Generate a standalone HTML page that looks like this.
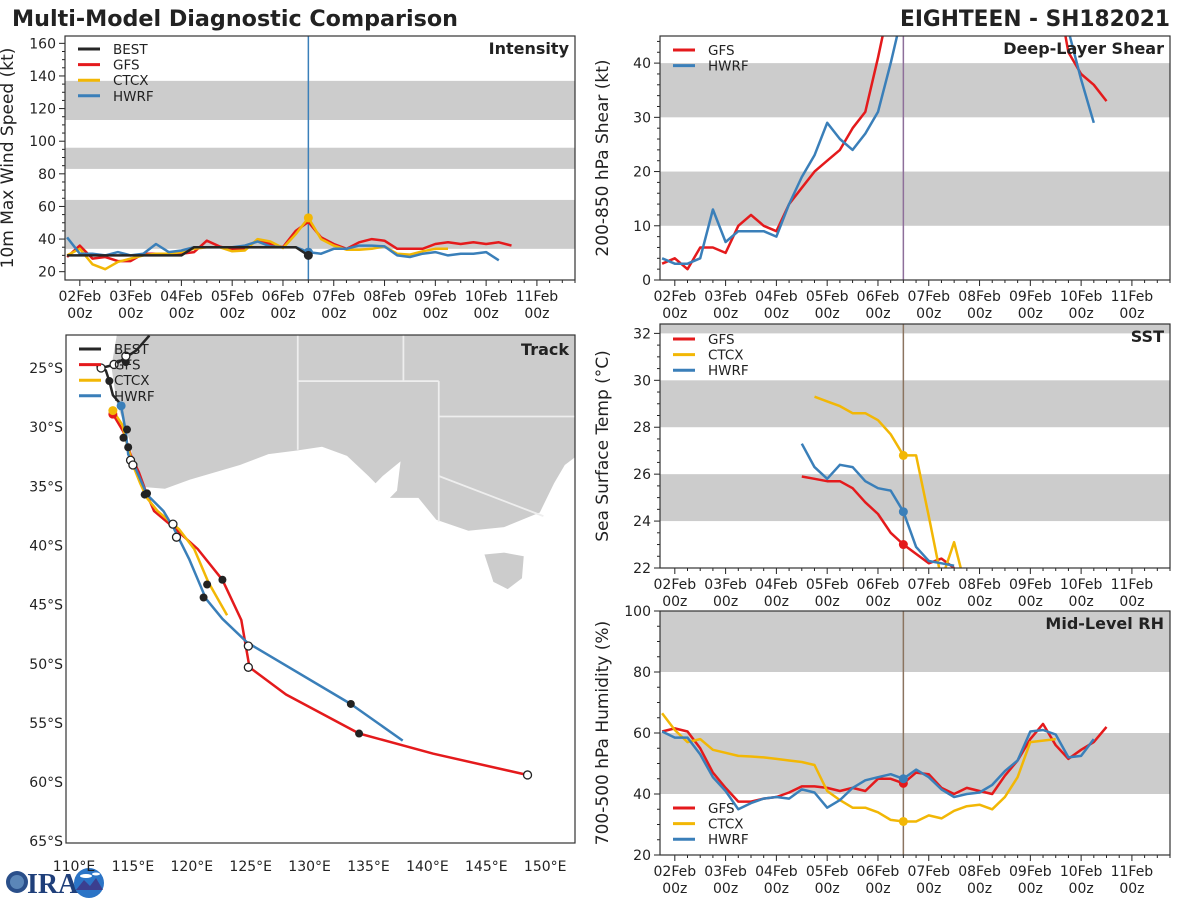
<!DOCTYPE html>
<html><head><meta charset="utf-8"><style>
html,body{margin:0;padding:0;background:#fff;}
svg{display:block;font-family:"DejaVu Sans","Liberation Sans",sans-serif;}
</style></head><body>
<svg id="fig" width="1200" height="900" viewBox="0 0 1200 900" xmlns="http://www.w3.org/2000/svg">
<rect width="1200" height="900" fill="#fff"/>
<text x="12" y="26" font-size="22" font-weight="bold" fill="#222" textLength="446" lengthAdjust="spacingAndGlyphs">Multi-Model Diagnostic Comparison</text>
<text x="1170" y="26" font-size="22" font-weight="bold" fill="#222" text-anchor="end" textLength="270" lengthAdjust="spacingAndGlyphs">EIGHTEEN - SH182021</text>
<g>
<circle cx="17" cy="882" r="11" fill="#2a4f8a"/><circle cx="17" cy="882" r="7" fill="#5b86b8"/>
<text x="27" y="893" font-size="28" font-weight="bold" fill="#1f3f7a" font-family="Liberation Serif,serif">IRA</text>
<circle cx="89" cy="883" r="15" fill="#2b74c6"/><path d="M76 890 L84 880 L90 886 L96 878 L103 890 Z" fill="#3b3f8f"/><ellipse cx="86" cy="876" rx="6" ry="2" fill="#fff"/><ellipse cx="96" cy="874" rx="4" ry="1.5" fill="#fff"/>
</g>
</svg>
<script>
// ---------- data ----------
const intBest = [30,30,30,30,30,30,30,30,30,30,35,35,35,35,35,35,35,35,35,30];
const intGfs = [29,36,28,29,26.5,26.5,31,31,31,31,32,39,35.5,33.5,34,39.5,37,35,45,50.5,41,37,34,38,40,39,34,34,34,37,38,37,38,37,38,36];
const intCtcx = [30,34,24.5,21.5,26,28,30,31,31,32,34,35,35,32.5,33,40,38.5,34.5,43,53,40,36,33.5,33.5,34,35.5,31,30.5,32.5,34,34];
const intHwrf = [41,31,31,30,32,30,31,37,32,33,35,35,35,35,36,38.5,35.5,35,35,32,31,34,34,36,36,35.5,30,29,31,32,30,31,31,32,27];
const shearGfs = [3,4,2,6,6,5,10,12,10,9,14,17,20,22,24,28,31,41,52,58,60,60,60,60,60,60,60,60,60,60,60,55,42,38,36,33];
const shearHwrf = [4,3,3,4,13,7,9,9,9,8,14,19,23,29,26,24,27,31,40,50,58,60,60,60,60,60,60,60,60,60,60,55,46,37,29];
const sstGfs = [25.9,25.8,25.7,25.7,25.4,24.8,24.3,23.5,23.0,22.6,22.2,22.4,22.0];
const sstCtcx = [29.3,29.1,28.9,28.6,28.6,28.3,27.7,26.8,26.8,24.2,21.5,23.1,21.0];
const sstHwrf = [27.3,26.3,25.8,26.4,26.3,25.7,25.4,25.3,24.4,22.9,22.3,22.2,22.1];
const rhGfs = [60.5,61.5,60.5,55,47,42,37.5,37.5,38.5,39,40.5,42.5,42.5,42,41,42,41,45,45,43.5,47,46.5,42,40,42,41,40,46,51,58,63,56,51.5,54.5,57,62];
const rhCtcx = [66.5,61,57,58,54.5,53.5,52.5,52.3,52,51.5,51,50.5,49.5,41,38,35.5,35.5,34,31.5,31,31,33,32,34.5,36,36.5,35,39,45.5,57,57.5,58];
const rhHwrf = [60.5,58.5,58.5,53,45.5,41,35,37,38.5,39,38.5,41.5,40.5,35.5,38,42,44.5,45.5,46.5,45,48,45.5,41.5,39,40,40.5,43,47.5,51,60.5,61,59.5,52,52.5,58];
const trkBestLon = [116.4,115.3,114.4,113.5,112.3,112.0,112.7,113.0,113.3,114.0];
const trkBestLat = [22.25,23.5,24.1,24.7,25.0,24.9,25.2,26.1,27.3,28.1];
const trkGfsLon = [113.3,114.2,114.8,115.5,116.2,116.8,118.6,120.5,122.6,124.2,124.9,128.0,134.2,140.5,148.5];
const trkGfsLat = [28.9,30.4,32.3,33.8,35.7,37.1,38.6,40.3,42.9,46.3,50.3,52.6,55.9,57.6,59.4];
const trkCtcxLon = [113.3,114.1,114.5,115.0,115.6,116.2,117.1,118.9,120.2,121.4,123.0];
const trkCtcxLat = [28.6,29.8,31.4,33.2,34.7,36.0,37.1,38.6,40.3,43.1,45.9];
const trkHwrfLon = [114.0,114.4,114.6,115.1,116.2,117.6,118.5,119.8,121.2,122.6,124.7,133.5,137.9];
const trkHwrfLat = [28.2,30.4,32.3,33.2,35.7,37.1,38.6,41.2,44.5,46.2,48.2,53.4,56.5];
const trkFilledLon = [114.4,113.0,114.5,114.2,114.6,116.0,116.2,121.3,122.6,121.0,133.5,134.2];
const trkFilledLat = [24.5,26.1,30.2,30.9,31.7,35.7,35.6,43.3,42.9,44.4,53.4,55.9];
const trkOpenLon = [112.3,113.4,114.4,114.8,115.0,118.4,118.7,124.8,124.8,148.5];
const trkOpenLat = [25.0,24.7,24.0,32.8,33.2,38.2,39.3,48.5,50.3,59.4];

// ---------- helpers ----------
const NS = 'http://www.w3.org/2000/svg';
const svg = document.getElementById('fig');
function mk(tag, attrs, parent){ const e=document.createElementNS(NS,tag); for(const k in attrs) e.setAttribute(k,attrs[k]); (parent||svg).appendChild(e); return e; }
const C = {best:'#262626', gfs:'#e41a1c', ctcx:'#f2b705', hwrf:'#3a7fb9'};
const TMIN=-7, TMAX=234;
let clipId=0;

function panel(p){
  const g = mk('g',{});
  
  
  const xs = t => p.x0 + (t-TMIN)/(TMAX-TMIN)*(p.x1-p.x0);
  const ys = v => p.y1 - (v-p.ymin)/(p.ymax-p.ymin)*(p.y1-p.y0);
  const cid='c'+(clipId++);
  const cp=mk('clipPath',{id:cid},g); mk('rect',{x:p.x0,y:p.y0,width:p.x1-p.x0,height:p.y1-p.y0},cp);
  p.bands.forEach(b=>{
    const r=mk('rect',{x:p.x0,y:ys(Math.min(b[1],p.ymax)),width:p.x1-p.x0,height:ys(b[0])-ys(Math.min(b[1],p.ymax)),fill:'#cccccc'},g);
    
    
  });
  for(let v=p.ymin0; v<=p.ymax+1e-6; v+=p.minor){
    const major = Math.abs(((v-p.ymin0)/p.major) - Math.round((v-p.ymin0)/p.major))<1e-6;
    mk('line',{x1:p.x0-(major?6:3),x2:p.x0,y1:ys(v),y2:ys(v),stroke:'#222','stroke-width':1},g);
    if(major){
      const t=mk('text',{x:p.x0-9,y:ys(v)+5,'font-size':14,'text-anchor':'end',fill:'#222'},g); t.textContent=v;
      
      
    }
  }
  for(let h=0; h<=TMAX; h+=6){
    const major=h%24===0;
    mk('line',{x1:xs(h),x2:xs(h),y1:p.y1,y2:p.y1+(major?6:3),stroke:'#222','stroke-width':1},g);
    if(major){
      const d=2+h/24;
      const t1=mk('text',{x:xs(h),y:p.y1+21,'font-size':14,'text-anchor':'middle',fill:'#222'},g); t1.textContent=(d<10?'0':'')+d+'Feb';
      
      
      const t2=mk('text',{x:xs(h),y:p.y1+38,'font-size':14,'text-anchor':'middle',fill:'#222'},g); t2.textContent='00z';
      
      
    }
  }
  const yt=mk('text',{x:0,y:0,'font-size':17,'text-anchor':'middle',fill:'#222',transform:`translate(${p.x0-52},${(p.y0+p.y1)/2}) rotate(-90)`},g);
  yt.textContent=p.ytitle;
  
  
  const sg=mk('g',{'clip-path':`url(#${cid})`},g);
  p.vlines.forEach(c=>mk('line',{x1:xs(108),x2:xs(108),y1:p.y0,y2:p.y1,stroke:c,'stroke-width':1.5},sg));
  p.series.forEach(s=>{
    const pts=s.vals.map((v,i)=>xs(s.start+6*i).toFixed(1)+','+ys(v).toFixed(1)).join(' ');
    const pl=mk('polyline',{points:pts,fill:'none',stroke:C[s.key],'stroke-width':2.5,'stroke-linejoin':'round'},sg);
    
    
    const idx=(108-s.start)/6;
    if(s.dot && idx>=0 && idx<s.vals.length){
      const c=mk('circle',{cx:xs(108),cy:ys(s.vals[idx]),r:4.5,fill:C[s.key]},sg);
      
      
    }
  });
  mk('rect',{x:p.x0,y:p.y0,width:p.x1-p.x0,height:p.y1-p.y0,fill:'none',stroke:'#333','stroke-width':1.2},g);
  const pt=mk('text',{x:p.x1-6,y:p.y0+18,'font-size':16,'font-weight':'bold','text-anchor':'end',fill:'#222'},g);
  pt.textContent=p.title;
  
  
  legend(g,p.x0+13,p.legY,p.legend);
}
function legend(g,x,y,keys){
  const lg=mk('g',{},g);
  
  
  keys.forEach((k,i)=>{
    const yy=y+i*15.6;
    mk('line',{x1:x,x2:x+22,y1:yy,y2:yy,stroke:C[k],'stroke-width':3},lg);
    const t=mk('text',{x:x+35,y:yy+5,'font-size':13.5,fill:'#222'},lg); t.textContent=k.toUpperCase();
    
    
  });
}

panel({name:'intensity',x0:65,x1:575,y0:36,y1:280,ymin:14.9,ymax:164.5,ymin0:20,major:20,minor:5,
  bands:[[34,64],[83,96],[113,137]],title:'Intensity',ytitle:'10m Max Wind Speed (kt)',
  vlines:['#3a7fb9'],legY:49,legend:['best','gfs','ctcx','hwrf'],
  series:[{key:'gfs',start:-6,vals:intGfs},{key:'ctcx',start:-6,vals:intCtcx,dot:1},{key:'hwrf',start:-6,vals:intHwrf,dot:1},{key:'best',start:-6,vals:intBest,dot:1}]});
panel({name:'shear',x0:660,x1:1170,y0:36,y1:280,ymin:0,ymax:45,ymin0:0,major:10,minor:2,
  bands:[[10,20],[30,40]],title:'Deep-Layer Shear',ytitle:'200-850 hPa Shear (kt)',
  vlines:['#8e6f9a'],legY:50,legend:['gfs','hwrf'],
  series:[{key:'gfs',start:-6,vals:shearGfs},{key:'hwrf',start:-6,vals:shearHwrf}]});
panel({name:'sst',x0:660,x1:1170,y0:324,y1:568,ymin:22,ymax:32.4,ymin0:22,major:2,minor:0.5,
  bands:[[24,26],[28,30],[32,33]],title:'SST',ytitle:'Sea Surface Temp (°C)',
  vlines:['#8b7460'],legY:339,legend:['gfs','ctcx','hwrf'],
  series:[{key:'gfs',start:60,vals:sstGfs,dot:1},{key:'ctcx',start:66,vals:sstCtcx,dot:1},{key:'hwrf',start:60,vals:sstHwrf,dot:1}]});
panel({name:'rh',x0:660,x1:1170,y0:611,y1:855,ymin:20,ymax:100,ymin0:20,major:20,minor:5,
  bands:[[40,60],[80,100]],title:'Mid-Level RH',ytitle:'700-500 hPa Humidity (%)',
  vlines:['#8b7460'],legY:808,legend:['gfs','ctcx','hwrf'],
  series:[{key:'gfs',start:-6,vals:rhGfs,dot:1},{key:'ctcx',start:-6,vals:rhCtcx,dot:1},{key:'hwrf',start:-6,vals:rhHwrf,dot:1}]});

// ---------- track map ----------
(function(){
  const x0=66,x1=575,y0=335,y1=843;
  const lx = lon => 74 + (lon-110)*11.78;
  const ly = lat => 368 + (lat-25)*11.83;
  const g=mk('g',{});
  
  
  const cp=mk('clipPath',{id:'trkclip'},g); mk('rect',{x:x0,y:y0,width:x1-x0,height:y1-y0},cp);
  const m=mk('g',{'clip-path':'url(#trkclip)'},g);
  const land=mk('g',{transform:'translate(40,330) scale(0.357,0.365)'},m);
  
  
  mk('path',{d:'M215,0 L215,15 L200,100 L215,200 L250,300 L265,380 L290,430 L350,435 L420,410 L560,370 L640,340 L720,330 L790,320 L860,345 L920,400 L940,420 L960,400 L1010,360 L1000,440 L980,460 L1060,460 L1110,520 L1200,550 L1300,540 L1400,500 L1440,420 L1470,370 L1510,340 L1510,0 Z',fill:'#cccccc'},land);
  mk('path',{d:'M1245,615 L1300,610 L1355,620 L1350,680 L1310,710 L1270,690 Z',fill:'#cccccc'},land);
  const bd='#eeeeee';
  [[722,0,722,328],[722,140,1117,140],[1117,140,1117,525],[1018,0,1018,140],[1117,237,1510,237],[1117,400,1410,510]].forEach(s=>mk('line',{x1:s[0],y1:s[1],x2:s[2],y2:s[3],stroke:bd,'stroke-width':5},land));
  const tracks=[['gfs',trkGfsLon,trkGfsLat],['ctcx',trkCtcxLon,trkCtcxLat],['hwrf',trkHwrfLon,trkHwrfLat],['best',trkBestLon,trkBestLat]];
  tracks.forEach(t=>{
    const pl=mk('polyline',{points:t[1].map((lo,i)=>lx(lo).toFixed(1)+','+ly(t[2][i]).toFixed(1)).join(' '),fill:'none',stroke:C[t[0]],'stroke-width':2.5,'stroke-linejoin':'round'},m);
    
    
  });
  [['gfs',trkGfsLon,trkGfsLat],['ctcx',trkCtcxLon,trkCtcxLat],['hwrf',trkHwrfLon,trkHwrfLat]].forEach(t=>{
    const c=mk('circle',{cx:lx(t[1][0]),cy:ly(t[2][0]),r:4.5,fill:C[t[0]]},m);
    
    
  });
  trkFilledLon.forEach((lo,i)=>{
    const c=mk('circle',{cx:lx(lo),cy:ly(trkFilledLat[i]),r:4,fill:'#222'},m);
    
    
  });
  trkOpenLon.forEach((lo,i)=>{
    const c=mk('circle',{cx:lx(lo),cy:ly(trkOpenLat[i]),r:4,fill:'#fff',stroke:'#222','stroke-width':1.3},m);
    
    
  });
  mk('rect',{x:x0,y:y0,width:x1-x0,height:y1-y0,fill:'none',stroke:'#333','stroke-width':1.2},g);
  for(let lat=25;lat<=65;lat+=5){
    const t=mk('text',{x:x0-3,y:ly(lat)+5,'font-size':14,'text-anchor':'end',fill:'#222'},g); t.textContent=lat+'°S';
    
    
  }
  for(let lon=110;lon<=150;lon+=5){
    const t=mk('text',{x:lx(lon),y:871,'font-size':14,'text-anchor':'middle',fill:'#222'},g); t.textContent=lon+'°E';
    
    
  }
  const pt=mk('text',{x:x1-6,y:y0+20,'font-size':16,'font-weight':'bold','text-anchor':'end',fill:'#222'},g);
  pt.textContent='Track';
  
  
  legend(g,x0+13,349,['best','gfs','ctcx','hwrf']);
})();
</script>
</body></html>
